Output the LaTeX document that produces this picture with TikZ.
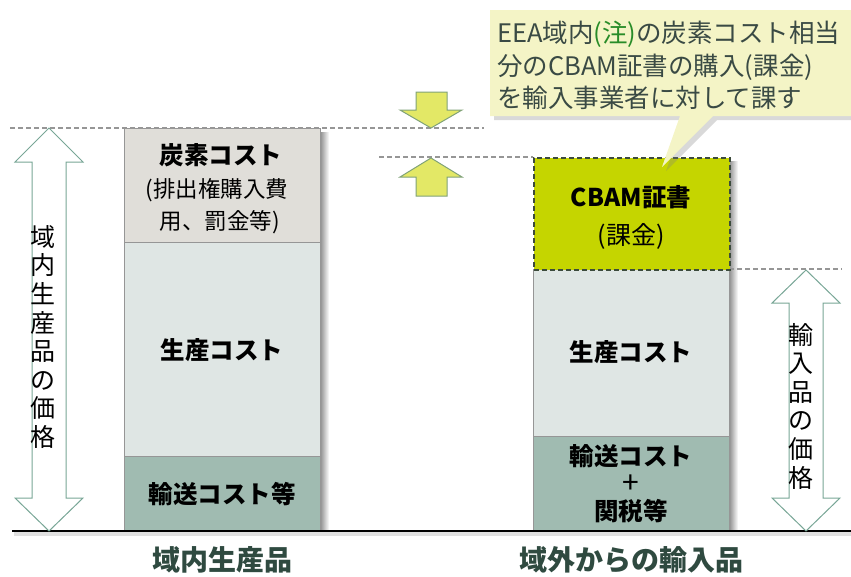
\documentclass[tikz,border=0pt]{standalone}
\usepackage{fontspec}
\setmainfont{Noto Sans CJK JP}
\usetikzlibrary{shadows}
\definecolor{carbon}{RGB}{224,222,217}
\definecolor{prod}{RGB}{223,230,228}
\definecolor{trans}{RGB}{160,187,177}
\definecolor{cbam}{RGB}{197,213,0}
\definecolor{callfill}{RGB}{244,244,198}
\definecolor{yarrow}{RGB}{227,232,102}
\definecolor{yarrowedge}{RGB}{128,162,120}
\definecolor{darrow}{RGB}{120,166,150}
\definecolor{labelc}{RGB}{47,74,64}
\definecolor{calltext}{RGB}{58,74,68}
\definecolor{notec}{RGB}{40,140,40}
\definecolor{boxedge}{RGB}{150,150,150}
\definecolor{dashc}{RGB}{150,150,150}
\definecolor{cbamedge}{RGB}{60,75,60}
\begin{document}
\begin{tikzpicture}[x=1pt,y=-1pt,
  bar/.style={draw=boxedge, line width=0.8pt, minimum width=196pt, inner sep=0pt, anchor=north west},
  boxtext/.style={font=\fontsize{24.5}{28}\selectfont\bfseries, text=black, inner sep=0pt},
  subtext/.style={font=\fontsize{22.5}{26}\selectfont, text=black, inner sep=0pt},
  guide/.style={draw=dashc, line width=1.2pt, dash pattern=on 5pt off 3pt},
  pricearrow/.style={draw=darrow, line width=1pt, fill=white},
  movearrow/.style={draw=yarrowedge, line width=1pt, fill=yarrow},
  vtext/.style={align=center, font=\fontsize{25}{28.6}\selectfont, text=black, inner sep=0pt},
  bottomlabel/.style={font=\fontsize{28}{30}\selectfont\bfseries, text=labelc, inner sep=0pt},
  barshadow/.style={left color=black!45, right color=white, draw=none}
]
\useasboundingbox (0,0) rectangle (851,576);

% shadows of bars
\shade[barshadow] (320,132) rectangle (329,534);
\shade[barshadow] (729,161) rectangle (738,534);
\fill[black!12] (14,532) rectangle (851,536);

% guide lines
\draw[guide] (10,128) -- (484,128);
\draw[guide] (379,157) -- (533,157);
\draw[guide] (729,269) -- (842,269);

% left bar
\node[bar, fill=carbon, minimum height=114pt] (lcarbon) at (124,128) {};
\node[bar, fill=prod, minimum height=214pt] (lprod) at (124,242) {};
\node[bar, fill=trans, minimum height=75pt] (ltrans) at (124,456) {};
\node[boxtext] (lcarbontxt) at (221,155) {炭素コスト};
\node[subtext] (lcarbonsub1) at (217,190) {(排出権購入費};
\node[subtext] (lcarbonsub2) at (220,222) {用、罰金等)};
\node[boxtext] (lprodtxt) at (222,350) {生産コスト};
\node[boxtext] (ltranstxt) at (222,494) {輸送コスト等};

% right bar
\node[bar, fill=prod, minimum height=167pt] (rprod) at (533,269) {};
\node[bar, fill=trans, minimum height=95pt] (rtrans) at (533,436) {};
\node[bar, fill=cbam, draw=cbamedge, line width=1.5pt, dash pattern=on 5pt off 3pt, minimum height=112pt] (rcbam) at (533,157) {};
\node[boxtext] (rcbamtxt) at (631,197) {CBAM証書};
\node[font=\fontsize{25}{28}\selectfont, text=black, inner sep=0pt] (rcbamsub) at (631,236) {(課金)};
\node[boxtext] (rprodtxt) at (631,352) {生産コスト};
\node[boxtext] (rtranstxt1) at (631,456) {輸送コスト};
\node[font=\fontsize{30}{30}\selectfont, text=black, inner sep=0pt] (rplus) at (631,484) {+};
\node[boxtext] (rtranstxt2) at (631,511) {関税等};

% base line
\draw[black, line width=1.4pt] (12,531) -- (851,531);

% price arrows
\draw[pricearrow] (49,128) -- (83,162) -- (66,162) -- (66,498) -- (83,498) -- (49,531)
  -- (15,498) -- (32,498) -- (32,162) -- (15,162) -- cycle;
\node[vtext] (lprice) at (43,337) {域\\内\\生\\産\\品\\の\\価\\格};
\draw[pricearrow] (806,270) -- (840,303) -- (823,303) -- (823,498) -- (840,498) -- (806,531)
  -- (772,498) -- (789,498) -- (789,303) -- (772,303) -- cycle;
\node[vtext] (rprice) at (801,406) {輸\\入\\品\\の\\価\\格};

% yellow arrows
\draw[movearrow] (416,92) -- (447,92) -- (447,110) -- (462,110) -- (431,128) -- (400,110) -- (416,110) -- cycle;
\draw[movearrow] (431,158) -- (462,177) -- (447,177) -- (447,196) -- (416,196) -- (416,177) -- (400,177) -- cycle;

% callout
\path[fill=callfill, drop shadow={shadow xshift=4pt, shadow yshift=-4pt, opacity=0.3}]
  (490,10) -- (852,10) -- (852,116) -- (713,116) -- (662,167) -- (680,116) -- (490,116) -- cycle;
\node[anchor=north west, align=left, text=calltext, font=\fontsize{25.5}{32.5}\selectfont, inner sep=0pt] (note) at (497,21)
  {EEA域内{\color{notec}(注)}の炭素コスト相当\\分のCBAM証書の購入(課金)\\を輸入事業者に対して課す};

% bottom labels
\node[bottomlabel] (llabel) at (222,560) {域内生産品};
\node[bottomlabel] (rlabel) at (631,560) {域外からの輸入品};
\end{tikzpicture}
\end{document}
